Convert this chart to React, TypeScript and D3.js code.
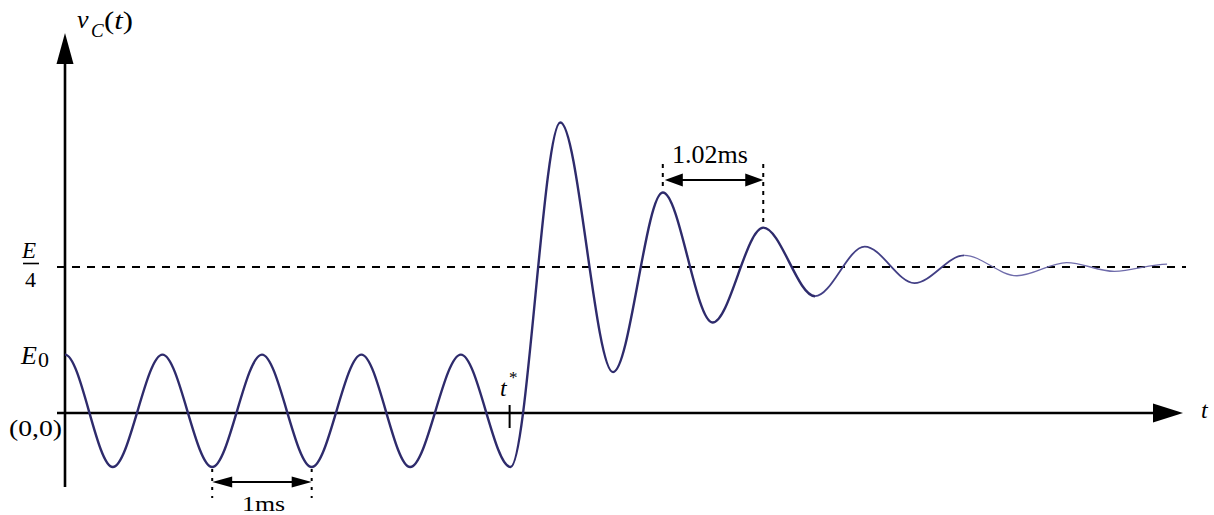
import React, { useEffect } from 'react'
import * as d3 from 'd3'

// v_C(t) : oscillation libre puis régime amorti après t*
// extrema (t en ms, v en unités de E/4)
const times = [0, 0.48, 0.98, 1.48, 1.98, 2.48, 2.98, 3.47, 3.98, 4.48, 4.98, 5.51, 6.01, 6.51, 7.02, 7.54, 8.04, 8.54, 9.04, 9.57, 10.07, 10.55, 11.08]
const values = [0.4, -0.37, 0.4, -0.37, 0.4, -0.37, 0.4, -0.37, 0.4, -0.37, 1.99, 0.28, 1.51, 0.62, 1.27, 0.8, 1.14, 0.89, 1.08, 0.94, 1.03, 0.97, 1.02]

const tStar = 4.47
const periodFree = [1.48, 2.48] // 1ms entre deux creux
const periodDamped = [6.01, 7.02] // 1.02ms entre deux crêtes
const finalLevel = 1 // E/4
const e0Level = 0.4

const W = 1214
const H = 515

// Hermite à tangente nulle sur chaque point (les points sont des extrema)
function curveExtrema(context: any) {
  let px = 0
  let py = 0
  let n = 0
  return {
    areaStart() {},
    areaEnd() {},
    lineStart() {
      n = 0
    },
    lineEnd() {},
    point(x: number, y: number) {
      x = +x
      y = +y
      if (n === 0) context.moveTo(x, y)
      else {
        const h = (x - px) / 3
        context.bezierCurveTo(px + h, py, x - h, y, x, y)
      }
      px = x
      py = y
      n++
    },
  }
}

export default function App() {
  useEffect(() => {
    document.body.style.margin = '0'
  }, [])

  const x = d3.scaleLinear().domain([0, 11.24]).range([65, 1183])
  const y = d3.scaleLinear().domain([0, 1]).range([413, 267])

  const pts = times.map((t, i) => ({ t, v: values[i] }))
  const line = d3
    .line<{ t: number; v: number }>()
    .x((d) => x(d.t))
    .y((d) => y(d.v))
    .curve(curveExtrema as any)

  // le trait s'affine en fin de courbe
  const seg1 = pts.slice(0, 16)
  const seg2 = pts.slice(15, 19)
  const seg3 = pts.slice(18)

  const x0 = x(0)
  const y0 = y(0)
  const yTop = 33
  const yBottom = 487
  const xLeft = 57
  const xRight = x.range()[1]

  const serif = "'Liberation Serif', Tinos, 'Times New Roman', serif"

  const arrowHead = (tipX: number, tipY: number, dir: number, len = 20, half = 5.5) =>
    `M${tipX},${tipY} L${tipX - dir * len},${tipY - half} L${tipX - dir * len},${tipY + half} Z`

  const a1 = x(periodFree[0])
  const a2 = x(periodFree[1])
  const b1 = x(periodDamped[0])
  const b2 = x(periodDamped[1])
  const troughY = y(values[3])

  return (
    <svg width={W} height={H} style={{ display: 'block', background: '#fff', fontFamily: serif }}>
      {/* niveau E/4 */}
      <line x1={xLeft} x2={1186} y1={y(finalLevel)} y2={y(finalLevel)} stroke="#000" strokeWidth={2} strokeDasharray="8,7" />

      {/* axes */}
      <line x1={x0} x2={x0} y1={yBottom} y2={yTop + 20} stroke="#000" strokeWidth={2.6} />
      <path d={`M${x0},${yTop} L${x0 - 8.5},${yTop + 31} L${x0 + 8.5},${yTop + 31} Z`} fill="#000" />
      <line x1={xLeft} x2={xRight - 20} y1={y0} y2={y0} stroke="#000" strokeWidth={2.4} />
      <path d={`M${xRight},${y0} L${xRight - 30},${y0 - 9.5} L${xRight - 30},${y0 + 9.5} Z`} fill="#000" />

      {/* courbe */}
      <path d={line(seg1) || ''} fill="none" stroke="#2e2b6c" strokeWidth={2.4} />
      <path d={line(seg2) || ''} fill="none" stroke="#423f85" strokeWidth={1.8} />
      <path d={line(seg3) || ''} fill="none" stroke="#6f6cab" strokeWidth={1.3} />

      {/* repère t* */}
      <line x1={x(tStar)} x2={x(tStar)} y1={y0 - 8} y2={y0 + 15} stroke="#000" strokeWidth={2} />

      {/* 1ms */}
      <line x1={a1} x2={a1} y1={troughY + 2} y2={498} stroke="#000" strokeWidth={2} strokeDasharray="3,6" />
      <line x1={a2} x2={a2} y1={troughY + 2} y2={498} stroke="#000" strokeWidth={2} strokeDasharray="3,6" />
      <line x1={a1 + 10} x2={a2 - 10} y1={482} y2={482} stroke="#000" strokeWidth={2} />
      <path d={arrowHead(a1, 482, -1)} fill="#000" />
      <path d={arrowHead(a2, 482, 1)} fill="#000" />
      <text x={242} y={511} fontSize={22} textLength={43} lengthAdjust="spacingAndGlyphs">1ms</text>

      {/* 1.02ms */}
      <line x1={b1} x2={b1} y1={164} y2={y(values[12]) - 2} stroke="#000" strokeWidth={2} strokeDasharray="4,5" />
      <line x1={b2} x2={b2} y1={164} y2={y(values[14]) - 1} stroke="#000" strokeWidth={2} strokeDasharray="4,5" />
      <line x1={b1 + 12} x2={b2 - 12} y1={180} y2={180} stroke="#000" strokeWidth={2} />
      <path d={arrowHead(b1 + 2, 180, -1, 18, 6.5)} fill="#000" />
      <path d={arrowHead(b2, 180, 1, 18, 6.5)} fill="#000" />
      <text x={672} y={163} fontSize={26}>1.02ms</text>

      {/* libellés */}
      <text x={77} y={28} fontSize={26} fontStyle="italic">v</text>
      <text x={91} y={37} fontSize={19} fontStyle="italic">C</text>
      <text x={104} y={29} fontSize={26} textLength={29} lengthAdjust="spacingAndGlyphs">
        (<tspan fontStyle="italic">t</tspan>)
      </text>

      <text x={22} y={258} fontSize={23} fontStyle="italic">E</text>
      <line x1={23} x2={39} y1={263.5} y2={263.5} stroke="#000" strokeWidth={1.6} />
      <text x={25} y={287} fontSize={22}>4</text>

      <text x={21} y={y(e0Level) + 9} fontSize={26} fontStyle="italic">E</text>
      <text x={38} y={367} fontSize={22}>0</text>

      <text x={9} y={436} fontSize={23} textLength={53} lengthAdjust="spacingAndGlyphs">(0,0)</text>

      <text x={1201} y={418} fontSize={24} fontStyle="italic">t</text>
      <text x={500} y={396} fontSize={24} fontStyle="italic">t</text>
      <text x={509} y={383} fontSize={17}>*</text>
    </svg>
  )
}
